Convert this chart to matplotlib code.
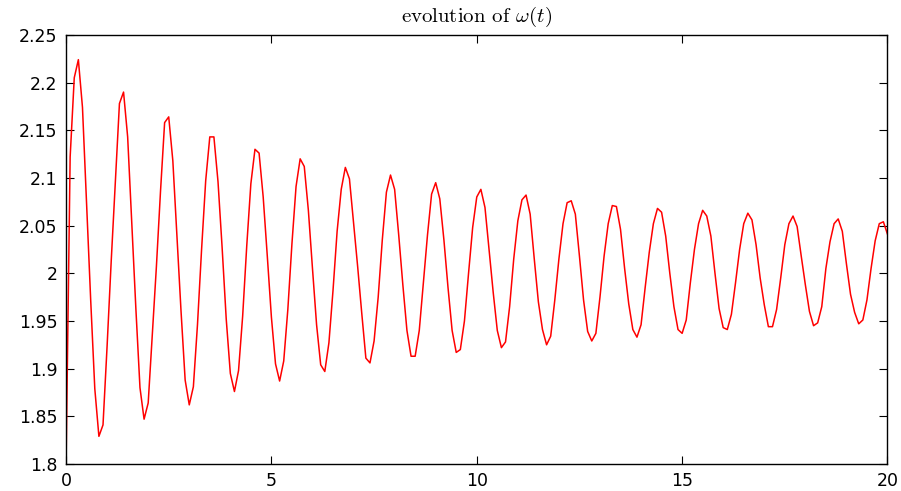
import numpy as np
import matplotlib
matplotlib.use("Agg")
import matplotlib.pyplot as plt
from matplotlib.ticker import FuncFormatter

# omega(t) samples, every 0.1 s from t=0 to t=20
t = np.linspace(0, 20, 201)
omega = [
    1.800, 2.122, 2.205, 2.224, 2.174, 2.073, 1.972, 1.879, 1.829, 1.841,
    1.924, 2.013, 2.095, 2.178, 2.190, 2.143, 2.053, 1.963, 1.880, 1.847,
    1.864, 1.935, 2.007, 2.086, 2.158, 2.164, 2.118, 2.039, 1.960, 1.888,
    1.862, 1.881, 1.946, 2.025, 2.097, 2.143, 2.143, 2.096, 2.027, 1.952,
    1.895, 1.876, 1.898, 1.955, 2.029, 2.094, 2.130, 2.126, 2.080, 2.018,
    1.954, 1.905, 1.887, 1.908, 1.962, 2.031, 2.091, 2.120, 2.112, 2.066,
    2.005, 1.946, 1.904, 1.897, 1.927, 1.982, 2.044, 2.088, 2.111, 2.099,
    2.053, 2.007, 1.958, 1.911, 1.906, 1.929, 1.975, 2.035, 2.085, 2.103,
    2.088, 2.040, 1.988, 1.940, 1.913, 1.913, 1.940, 1.990, 2.040, 2.083,
    2.095, 2.078, 2.035, 1.985, 1.940, 1.917, 1.920, 1.950, 2.000, 2.048,
    2.080, 2.088, 2.069, 2.025, 1.980, 1.940, 1.922, 1.928, 1.965, 2.015,
    2.055, 2.077, 2.082, 2.062, 2.015, 1.970, 1.941, 1.925, 1.934, 1.972,
    2.015, 2.052, 2.074, 2.076, 2.062, 2.018, 1.972, 1.939, 1.929, 1.937,
    1.975, 2.018, 2.052, 2.071, 2.070, 2.046, 2.005, 1.968, 1.941, 1.933,
    1.946, 1.985, 2.022, 2.052, 2.068, 2.064, 2.039, 2.000, 1.965, 1.941,
    1.937, 1.951, 1.990, 2.025, 2.052, 2.066, 2.060, 2.039, 2.000, 1.963,
    1.943, 1.941, 1.957, 1.990, 2.025, 2.052, 2.063, 2.056, 2.030, 1.995,
    1.967, 1.944, 1.944, 1.962, 1.995, 2.030, 2.052, 2.060, 2.049, 2.018,
    1.988, 1.960, 1.945, 1.948, 1.965, 2.005, 2.033, 2.052, 2.057, 2.044,
    2.010, 1.978, 1.959, 1.947, 1.951, 1.972, 2.005, 2.034, 2.052, 2.054,
    2.041,
]
xticks = [0, 5, 10, 15, 20]
yticks = [1.8, 1.85, 1.9, 1.95, 2.0, 2.05, 2.1, 2.15, 2.2, 2.25]

plt.rcParams['mathtext.fontset'] = 'cm'

fig = plt.figure(figsize=(9.01, 4.91), dpi=100)
ax = fig.add_axes([0.0733, 0.055, 0.9117, 0.874])

ax.plot(t, omega, color='red', linewidth=1.1)

ax.set_xlim(0, 20)
ax.set_ylim(1.8, 2.25)
ax.set_xticks(xticks)
ax.set_yticks(yticks)
ax.yaxis.set_major_formatter(FuncFormatter(lambda v, p: '%g' % v))
ax.tick_params(direction='in', length=6, width=0.8, top=True, right=True,
               labelsize=12.5, pad=6)
for lbl in ax.get_xticklabels() + ax.get_yticklabels():
    lbl.set_family('DejaVu Sans')
for s in ax.spines.values():
    s.set_linewidth(1.0)

ax.set_title(r'evolution of $\omega(t)$', fontfamily='cmr10', fontsize=15, pad=9)

fig.savefig('out.png', dpi=100)
